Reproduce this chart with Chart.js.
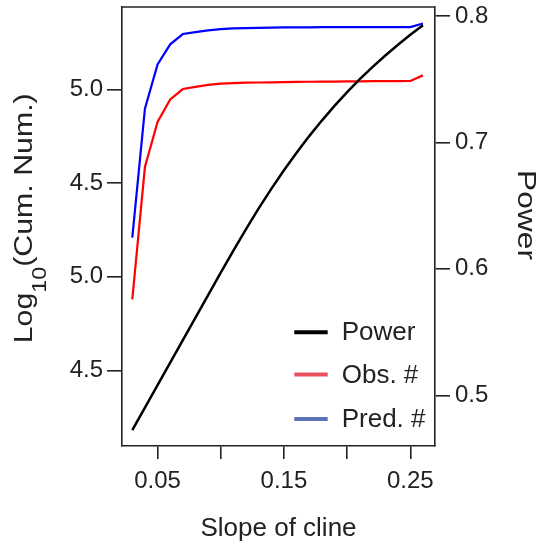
<!DOCTYPE html>
<html><head><meta charset="utf-8">
<style>html,body{margin:0;padding:0;background:#fff}#wrap{width:545px;height:547px}</style>
<script src="https://cdn.jsdelivr.net/npm/chart.js@4"></script>
</head><body><div id="wrap"><canvas id="c" width="545" height="547"></canvas></div>
<script>
// ---- data ----
const slopes = [0.03,0.04,0.05,0.06,0.07,0.08,0.09,0.10,0.11,0.12,0.13,0.14,0.15,0.16,0.17,0.18,0.19,0.20,0.21,0.22,0.23,0.24,0.25,0.26];
const power  = [0.4725,0.4903,0.5081,0.5259,0.5437,0.5615,0.5793,0.5970,0.6145,0.6315,0.6478,0.6633,0.6780,0.6919,0.7050,0.7173,0.7289,0.7398,0.7500,0.7596,0.7686,0.7771,0.7851,0.7926];
const obsNum = [4.879,5.586,5.827,5.947,6.003,6.015,6.025,6.032,6.035,6.037,6.038,6.039,6.040,6.041,6.042,6.043,6.043,6.044,6.044,6.045,6.045,6.045,6.046,6.076];
const predNum= [5.209,5.898,6.135,6.242,6.297,6.307,6.316,6.323,6.327,6.329,6.330,6.331,6.332,6.333,6.333,6.334,6.334,6.334,6.334,6.334,6.334,6.334,6.334,6.353];
const seriesNames = ['Power','Obs. #','Pred. #'];
const lineColors = ['#000000','#ff0000','#0000ff'];
const legendColors = ['#000000','#e8505e','#5b72b8'];
const xTicks = [0.05,0.10,0.15,0.20,0.25];
const xTickLabels = ['0.05','','0.15','','0.25'];
const leftTicks = [4.5,5.0,5.5,6.0];
const leftTickLabels = ['4.5','5.0','4.5','5.0'];
const rightTicks = [0.5,0.6,0.7,0.8];
const rightTickLabels = ['0.5','0.6','0.7','0.8'];
const xTitle = 'Slope of cline';
const yLeftTitle = ['Log','10','(Cum. Num.)'];
const yRightTitle = 'Power';

const FONT = '"Liberation Sans", Arial, sans-serif';
const INK = '#222222';

function pts(ys){ return slopes.map((x,i)=>({x:x,y:ys[i]})); }

const framePlugin = {
  id:'frame',
  afterDraw(chart){
    const {ctx, chartArea:a} = chart;
    ctx.save();
    ctx.strokeStyle = INK; ctx.lineWidth = 1.6;
    ctx.beginPath(); ctx.moveTo(a.left, a.top); ctx.lineTo(a.right, a.top); ctx.stroke();
    ctx.restore();
  }
};

const titlesPlugin = {
  id:'ytitles',
  afterDraw(chart){
    const ctx = chart.ctx;
    ctx.save();
    ctx.fillStyle = INK;
    // left title with subscript
    ctx.save();
    ctx.translate(31.7, 343.3);
    ctx.rotate(-Math.PI/2);
    ctx.scale(1.166, 1);
    ctx.textBaseline = 'alphabetic'; ctx.textAlign = 'left';
    ctx.font = '26px ' + FONT;
    ctx.fillText(yLeftTitle[0], 0, 0);
    let w = ctx.measureText(yLeftTitle[0]).width;
    ctx.font = '20px ' + FONT;
    ctx.fillText(yLeftTitle[1], w, 14.5);
    w += ctx.measureText(yLeftTitle[1]).width;
    ctx.font = '26px ' + FONT;
    ctx.fillText(yLeftTitle[2], w, 0);
    ctx.restore();
    // right title
    ctx.save();
    ctx.translate(518.3, 215);
    ctx.rotate(Math.PI/2);
    ctx.scale(1.22, 1);
    ctx.textBaseline = 'alphabetic'; ctx.textAlign = 'center';
    ctx.font = '26px ' + FONT;
    ctx.fillText(yRightTitle, 0, 0);
    ctx.restore();
    ctx.restore();
  }
};

const legendPlugin = {
  id:'innerLegend',
  afterDraw(chart){
    const {ctx, chartArea:a} = chart;
    const x0 = a.right - 140.7, x1 = a.right - 107.3, tx = a.right - 93.3;
    const rows = [a.bottom - 113.7, a.bottom - 71.6, a.bottom - 27];
    ctx.save();
    ctx.font = '26px ' + FONT;
    ctx.textBaseline = 'middle'; ctx.textAlign = 'left';
    chart.data.datasets.forEach((ds,i)=>{
      ctx.strokeStyle = legendColors[i]; ctx.lineWidth = 4; ctx.lineCap = 'butt';
      ctx.beginPath(); ctx.moveTo(x0, rows[i]); ctx.lineTo(x1, rows[i]); ctx.stroke();
      ctx.fillStyle = INK;
      ctx.fillText(ds.label, tx, rows[i] + 1);
    });
    ctx.restore();
  }
};

const axisGrid = (len)=>({display:true, drawOnChartArea:false, drawTicks:true, tickLength:len, color:INK, lineWidth:1.6});
const axisBorder = {display:true, color:INK, width:1.6};
const noPad = s=>{ s.paddingTop = 0; s.paddingBottom = 0; s.paddingLeft = 0; s.paddingRight = 0; };

new Chart(document.getElementById('c'), {
  type:'line',
  data:{
    datasets:[
      {label:seriesNames[0], data:pts(power), yAxisID:'y2', borderColor:lineColors[0], borderWidth:2.5, pointRadius:0, tension:0, fill:false},
      {label:seriesNames[1], data:pts(obsNum), yAxisID:'y', borderColor:lineColors[1], borderWidth:2.2, pointRadius:0, tension:0, fill:false},
      {label:seriesNames[2], data:pts(predNum), yAxisID:'y', borderColor:lineColors[2], borderWidth:2.2, pointRadius:0, tension:0, fill:false}
    ]
  },
  options:{
    responsive:false, animation:false, devicePixelRatio:1,
    layout:{padding:{top:7,left:0,right:0,bottom:0}},
    plugins:{legend:{display:false}, tooltip:{enabled:false}},
    scales:{
      x:{
        type:'linear', position:'bottom', min:0.02186, max:0.26953,
        grid:axisGrid(13), border:axisBorder,
        afterBuildTicks:s=>{ s.ticks = xTicks.map(v=>({value:v})); },
        afterFit:s=>{ s.height = 101; noPad(s); },
        ticks:{autoSkip:false, maxRotation:0, padding:8, color:INK, font:{family:FONT, size:24},
          callback:(v,i)=>xTickLabels[i]},
        title:{display:true, text:xTitle, color:INK, font:{family:FONT, size:26}, padding:{top:0,bottom:3}}
      },
      y:{
        type:'linear', position:'left', min:4.0955, max:6.4414,
        grid:axisGrid(15), border:axisBorder,
        afterBuildTicks:s=>{ s.ticks = leftTicks.map(v=>({value:v})); },
        afterFit:s=>{ s.width = 122; noPad(s); },
        ticks:{autoSkip:false, padding:4, color:INK, font:{family:FONT, size:24},
          callback:(v,i)=>leftTickLabels[i]}
      },
      y2:{
        type:'linear', position:'right', min:0.4599, max:0.80712,
        grid:axisGrid(15), border:axisBorder,
        afterBuildTicks:s=>{ s.ticks = rightTicks.map(v=>({value:v})); },
        afterFit:s=>{ s.width = 110; noPad(s); },
        ticks:{autoSkip:false, padding:5, color:INK, font:{family:FONT, size:24},
          callback:(v,i)=>rightTickLabels[i]}
      }
    }
  },
  plugins:[framePlugin, titlesPlugin, legendPlugin]
});
</script>
</body></html>
